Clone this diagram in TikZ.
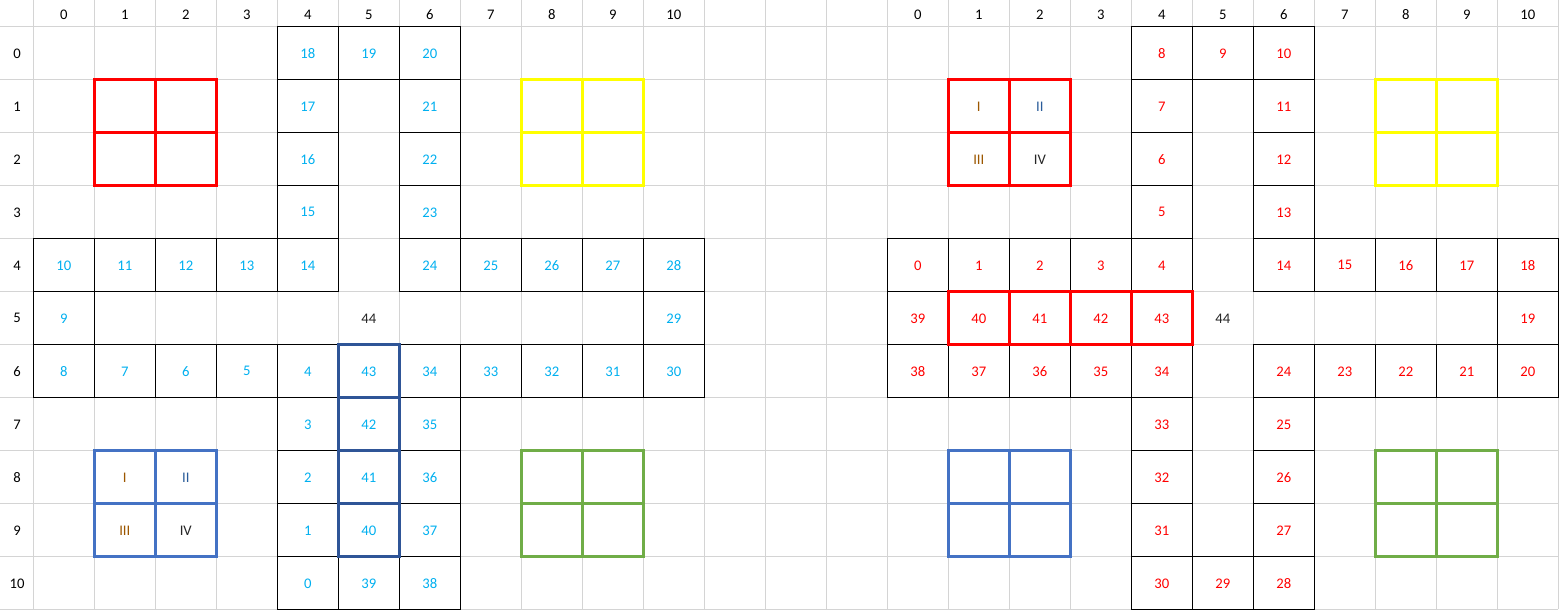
\documentclass[tikz,border=0pt]{standalone}
\usepackage{fontspec}
\setmainfont{Carlito}
\definecolor{gridgrey}{HTML}{D4D4D4}
\definecolor{numblue}{HTML}{00B0F0}
\definecolor{numred}{HTML}{FF0000}
\definecolor{sqred}{HTML}{FF0000}
\definecolor{sqyellow}{HTML}{FFFF00}
\definecolor{sqblue}{HTML}{4472C4}
\definecolor{sqgreen}{HTML}{70AD47}
\definecolor{sqdark}{HTML}{2F5597}
\definecolor{romanbrown}{HTML}{9C5700}
\definecolor{romanblue}{HTML}{2A5C9A}
\definecolor{darktext}{HTML}{262626}
\newcommand\cellX[1]{33.3+61*(#1)}
\newcommand\cellY[1]{26.3+53*(#1)}
\newcommand\mysquare[3]{%
  \draw[boldline,draw=#3] ({\cellX{#1}},{\cellY{#2}}) rectangle ({\cellX{#1+2}},{\cellY{#2+2}});
  \draw[boldline,draw=#3] ({\cellX{#1+1}},{\cellY{#2}}) -- ({\cellX{#1+1}},{\cellY{#2+2}});
  \draw[boldline,draw=#3] ({\cellX{#1}},{\cellY{#2+1}}) -- ({\cellX{#1+2}},{\cellY{#2+1}});
}
\begin{document}
\begin{tikzpicture}[x=0.75pt,y=-0.75pt,
  gline/.style={draw=gridgrey,line width=0.75pt},
  hdr/.style={font=\fontsize{11}{13}\selectfont,text=black,inner sep=0pt},
  cellbox/.style={draw=black,line width=0.75pt,minimum width=45.75pt,minimum height=39.75pt,inner sep=0pt,outer sep=0pt,font=\fontsize{11}{13}\selectfont},
  lnum/.style={cellbox,text=numblue},
  rnum/.style={cellbox,text=numred},
  plaintext/.style={font=\fontsize{11}{13}\selectfont,inner sep=0pt},
  boldline/.style={line width=2.25pt}]
\useasboundingbox (0,0) rectangle (1563,613);
\fill[white] (0,0) rectangle (1563,613);
% grey spreadsheet grid
\foreach \k in {0,...,25} \draw[gline] ({\cellX{\k}},0) -- ({\cellX{\k}},609.3);
\foreach \r in {0,...,11} \draw[gline] (0,{\cellY{\r}}) -- (1558.3,{\cellY{\r}});
% headers
\foreach \c in {0,...,10} {
  \node[hdr] (hl\c) at ({\cellX{\c}+30.5},14.5) {\c};
  \node[hdr] (hr\c) at ({\cellX{\c+14}+30.5},14.5) {\c};
}
\foreach \r in {0,...,10} \node[hdr] (row\r) at (17,{\cellY{\r}+27}) {\r};
% left track
\foreach \c/\r/\n in {4/10/0,4/9/1,4/8/2,4/7/3,4/6/4,3/6/5,2/6/6,1/6/7,0/6/8,0/5/9,
  0/4/10,1/4/11,2/4/12,3/4/13,4/4/14,4/3/15,4/2/16,4/1/17,4/0/18,5/0/19,
  6/0/20,6/1/21,6/2/22,6/3/23,6/4/24,7/4/25,8/4/26,9/4/27,10/4/28,10/5/29,
  10/6/30,9/6/31,8/6/32,7/6/33,6/6/34,6/7/35,6/8/36,6/9/37,6/10/38,5/10/39,
  5/9/40,5/8/41,5/7/42,5/6/43}
  \node[lnum] (L\n) at ({\cellX{\c}+30.5},{\cellY{\r}+27}) {\n};
% right track
\foreach \c/\r/\n in {0/4/0,1/4/1,2/4/2,3/4/3,4/4/4,4/3/5,4/2/6,4/1/7,4/0/8,5/0/9,
  6/0/10,6/1/11,6/2/12,6/3/13,6/4/14,7/4/15,8/4/16,9/4/17,10/4/18,10/5/19,
  10/6/20,9/6/21,8/6/22,7/6/23,6/6/24,6/7/25,6/8/26,6/9/27,6/10/28,5/10/29,
  4/10/30,4/9/31,4/8/32,4/7/33,4/6/34,3/6/35,2/6/36,1/6/37,0/6/38,0/5/39,
  1/5/40,2/5/41,3/5/42,4/5/43}
  \node[rnum] (R\n) at ({\cellX{\c+14}+30.5},{\cellY{\r}+27}) {\n};
% centre cells
\node[plaintext,text=darktext] (Lcentre) at ({\cellX{5}+30.5},{\cellY{5}+27}) {44};
\node[plaintext,text=darktext] (Rcentre) at ({\cellX{19}+30.5},{\cellY{5}+27}) {44};
% coloured squares, left
\mysquare{1}{1}{sqred}
\mysquare{8}{1}{sqyellow}
\mysquare{1}{8}{sqblue}
\mysquare{8}{8}{sqgreen}
% coloured squares, right
\mysquare{15}{1}{sqred}
\mysquare{22}{1}{sqyellow}
\mysquare{15}{8}{sqblue}
\mysquare{22}{8}{sqgreen}
% left home column
\draw[boldline,draw=sqdark] ({\cellX{5}},{\cellY{6}}) rectangle ({\cellX{6}},{\cellY{10}});
\foreach \r in {7,8,9} \draw[boldline,draw=sqdark] ({\cellX{5}},{\cellY{\r}}) -- ({\cellX{6}},{\cellY{\r}});
% right home row
\draw[boldline,draw=sqred] ({\cellX{15}},{\cellY{5}}) rectangle ({\cellX{19}},{\cellY{6}});
\foreach \c in {16,17,18} \draw[boldline,draw=sqred] ({\cellX{\c}},{\cellY{5}}) -- ({\cellX{\c}},{\cellY{6}});
% roman numerals, left blue square
\node[plaintext,text=romanbrown] (LI) at ({\cellX{1}+30.5},{\cellY{8}+27}) {I};
\node[plaintext,text=romanblue] (LII) at ({\cellX{2}+30.5},{\cellY{8}+27}) {II};
\node[plaintext,text=romanbrown] (LIII) at ({\cellX{1}+30.5},{\cellY{9}+27}) {III};
\node[plaintext,text=darktext] (LIV) at ({\cellX{2}+30.5},{\cellY{9}+27}) {IV};
% roman numerals, right red square
\node[plaintext,text=romanbrown] (RI) at ({\cellX{15}+30.5},{\cellY{1}+27}) {I};
\node[plaintext,text=romanblue] (RII) at ({\cellX{16}+30.5},{\cellY{1}+27}) {II};
\node[plaintext,text=romanbrown] (RIII) at ({\cellX{15}+30.5},{\cellY{2}+27}) {III};
\node[plaintext,text=darktext] (RIV) at ({\cellX{16}+30.5},{\cellY{2}+27}) {IV};
\end{tikzpicture}
\end{document}
